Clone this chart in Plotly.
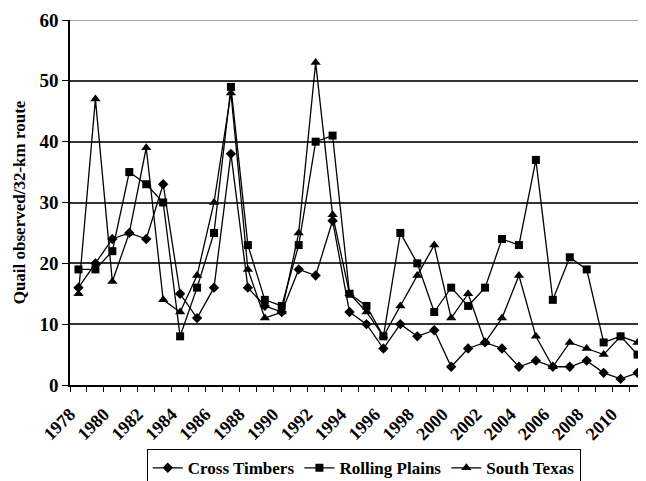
import plotly.graph_objects as go

years = list(range(1978, 2012))
cross_timbers = [16, 20, 24, 25, 24, 33, 15, 11, 16, 38, 16, 13, 12, 19, 18, 27, 12, 10, 6, 10, 8, 9, 3, 6, 7, 6, 3, 4, 3, 3, 4, 2, 1, 2]
rolling_plains = [19, 19, 22, 35, 33, 30, 8, 16, 25, 49, 23, 14, 13, 23, 40, 41, 15, 13, 8, 25, 20, 12, 16, 13, 16, 24, 23, 37, 14, 21, 19, 7, 8, 5]
south_texas = [15, 47, 17, 25, 39, 14, 12, 18, 30, 48, 19, 11, 12, 25, 53, 28, 15, 12, 8, 13, 18, 23, 11, 15, 7, 11, 18, 8, 3, 7, 6, 5, 8, 7]
tick_years = list(range(1978, 2011, 2))

FONT = "Liberation Serif"

fig = go.Figure()
series = [
    ("Cross Timbers", cross_timbers, "diamond", 8),
    ("Rolling Plains", rolling_plains, "square", 8),
    ("South Texas", south_texas, "triangle-up", 9),
]
for name, vals, sym, sz in series:
    fig.add_trace(go.Scatter(
        x=years, y=vals, name=name, mode="lines+markers",
        line=dict(color="black", width=1.3),
        marker=dict(symbol=sym, size=sz, color="black"),
        cliponaxis=False,
    ))

# the page body adds an 8px offset, so the figure is 8px smaller and margins shifted
fig.update_layout(
    width=638, height=473,
    margin=dict(l=62, r=0, t=12, b=96, autoexpand=False),
    paper_bgcolor="white", plot_bgcolor="white",
    font=dict(family=FONT, color="black", size=18, weight="bold"),
    showlegend=True,
    legend=dict(
        orientation="h", x=0.51, xanchor="center", y=-0.176, yanchor="top",
        bordercolor="black", borderwidth=1, bgcolor="white",
        font=dict(family=FONT, size=17, weight="bold"),
        itemsizing="trace", tracegroupgap=0, itemwidth=30,
    ),
    shapes=[dict(type="line", xref="paper", yref="y", x0=0, x1=1, y0=60, y1=60,
                 line=dict(color="#aaaaaa", width=2), layer="above")],
)

fig.update_xaxes(
    range=[1977.5, 2011.5], automargin=False,
    tickvals=[y - 0.5 for y in tick_years], ticktext=[str(y) for y in tick_years],
    tickangle=-45, ticks="", showgrid=False,
    showline=True, linecolor="black", linewidth=1.5,
    tickfont=dict(family=FONT, size=18, weight="bold"),
    ticklabelstandoff=10,
    minor=dict(tick0=1977.5, dtick=1, ticks="outside", ticklen=5, tickcolor="black", tickwidth=1, showgrid=False),
    zeroline=False,
)

fig.update_yaxes(
    range=[0, 60], dtick=10, automargin=False,
    ticks="outside", ticklen=6, tickcolor="black",
    showline=True, linecolor="black", linewidth=1.5,
    showgrid=True, gridcolor="#333333", gridwidth=1.5,
    zeroline=False,
    tickfont=dict(family=FONT, size=19, weight="bold"),
    title=dict(text="Quail observed/32-km route", font=dict(family=FONT, size=17, weight="bold"), standoff=10),
)

fig.write_html("out.html")
